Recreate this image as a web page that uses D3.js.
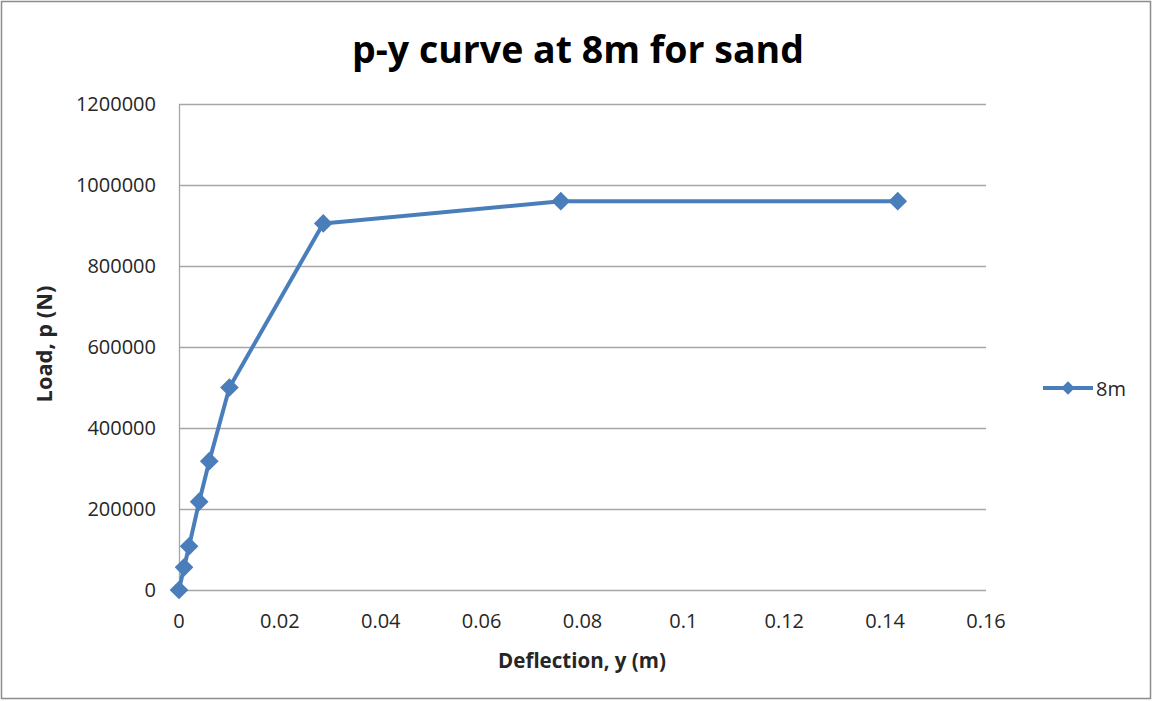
<!DOCTYPE html>
<html>
<head>
<meta charset="utf-8">
<script src="https://cdn.jsdelivr.net/npm/d3@7"></script>
<style>
  html, body { margin: 0; padding: 0; background: #fff; }
  text { font-family: "Open Sans", "Liberation Sans", sans-serif; }
</style>
</head>
<body>
<svg id="chart" width="1152" height="701"></svg>
<script>
const deflection = [0, 0.001, 0.002, 0.004, 0.006, 0.01, 0.0286, 0.0757, 0.1425];
const load = [0, 56000, 108000, 218000, 318000, 500000, 905000, 960000, 960000];
const seriesName = "8m";
const xTicks = [0, 0.02, 0.04, 0.06, 0.08, 0.1, 0.12, 0.14, 0.16];
const yTicks = [0, 200000, 400000, 600000, 800000, 1000000, 1200000];
const titleText = "p-y curve at 8m for sand";
const xTitle = "Deflection, y (m)";
const yTitle = "Load, p (N)";

(function () {
const svg = d3.select("#chart");
const color = "#4A7EBB";
const grid = "#A6A6A6";
const tickFont = 20;

// outer chart border
svg.append("rect").attr("x", 1.5).attr("y", 1.5).attr("width", 1149).attr("height", 697)
  .attr("fill", "#fff").attr("stroke", "#8C8C8C").attr("stroke-width", 1.5);

const pLeft = 179, pRight = 986, pTop = 104, pBottom = 590;
const x = d3.scaleLinear().domain([0, 0.16]).range([pLeft, pRight]);
const y = d3.scaleLinear().domain([0, 1200000]).range([pBottom, pTop]);

// gridlines
svg.append("g").selectAll("line").data(yTicks).join("line")
  .attr("x1", pLeft).attr("x2", pRight)
  .attr("y1", d => y(d) + 0.5).attr("y2", d => y(d) + 0.5)
  .attr("stroke", grid).attr("stroke-width", 1.3);

// left axis line
svg.append("line").attr("x1", pLeft + 0.5).attr("x2", pLeft + 0.5)
  .attr("y1", pTop).attr("y2", pBottom).attr("stroke", grid).attr("stroke-width", 1.3);

// y tick labels
svg.append("g").selectAll("text").data(yTicks).join("text")
  .attr("x", 156).attr("y", d => y(d)).attr("dy", "0.35em")
  .attr("text-anchor", "end").attr("font-size", tickFont).attr("fill", "#262626")
  .text(d => d3.format("d")(d));

// x tick labels
svg.append("g").selectAll("text").data(xTicks).join("text")
  .attr("x", d => x(d)).attr("y", 621).attr("dy", "0.35em")
  .attr("text-anchor", "middle").attr("font-size", tickFont).attr("fill", "#262626")
  .text(d => d === 0 ? "0" : String(+d.toFixed(2)));

// line
const pts = deflection.map((d, i) => [d, load[i]]);
svg.append("path").datum(pts)
  .attr("fill", "none").attr("stroke", color).attr("stroke-width", 4)
  .attr("stroke-linejoin", "round")
  .attr("d", d3.line().x(d => x(d[0])).y(d => y(d[1])));

svg.append("g").selectAll("path").data(pts).join("path")
  .attr("d", d3.symbol().type(d3.symbolSquare).size(175))
  .attr("transform", d => `translate(${x(d[0])},${y(d[1])}) rotate(45)`)
  .attr("fill", color);

// title
const t = svg.append("text").attr("x", 578).attr("y", 63)
  .attr("text-anchor", "middle").attr("font-weight", "bold").attr("font-size", 30)
  .attr("fill", "#000").text(titleText);
const tw = t.node().getComputedTextLength();
t.attr("font-size", 30 * 452 / tw);

// axis titles
const xt = svg.append("text").attr("x", 582).attr("y", 668)
  .attr("text-anchor", "middle").attr("font-weight", "bold").attr("font-size", 16)
  .attr("fill", "#262626").text(xTitle);
const xw = xt.node().getComputedTextLength();
xt.attr("font-size", 16 * 168 / xw);

const yt = svg.append("text").attr("transform", "translate(52,344) rotate(-90)")
  .attr("text-anchor", "middle").attr("font-weight", "bold").attr("font-size", 16)
  .attr("fill", "#262626").text(yTitle);
const yw = yt.node().getComputedTextLength();
yt.attr("font-size", 16 * 117 / yw);

// legend
const lg = svg.append("g");
lg.append("line").attr("x1", 1043).attr("x2", 1093).attr("y1", 388).attr("y2", 388)
  .attr("stroke", color).attr("stroke-width", 4);
lg.append("path").attr("d", d3.symbol().type(d3.symbolSquare).size(90))
  .attr("transform", "translate(1068,388) rotate(45)").attr("fill", color);
lg.append("text").attr("x", 1096).attr("y", 389).attr("dy", "0.35em")
  .attr("font-size", tickFont).attr("fill", "#262626").text(seriesName);
})();
</script>
</body>
</html>
